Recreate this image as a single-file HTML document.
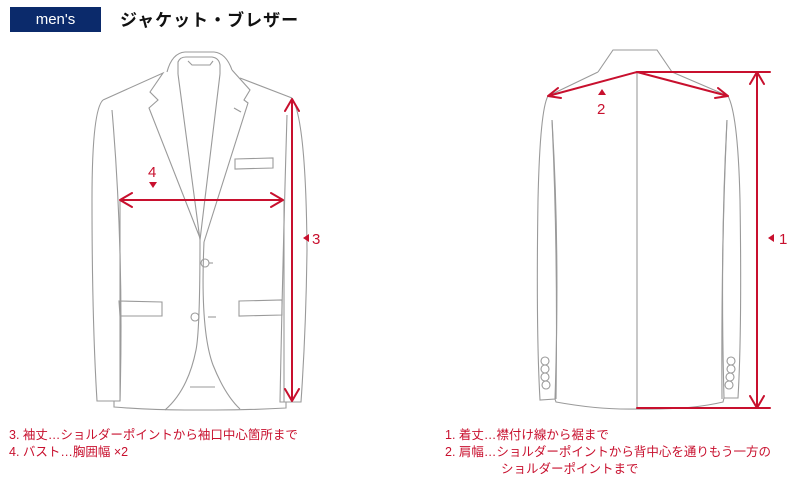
<!DOCTYPE html>
<html><head><meta charset="utf-8"><style>
html,body{margin:0;padding:0;background:#fff;}
body{width:800px;height:480px;position:relative;overflow:hidden;font-family:"Liberation Sans","Noto Sans CJK JP",sans-serif;}
.badge{position:absolute;left:10px;top:7px;width:91px;height:25px;background:#0b2a6b;color:#fff;font-size:15px;line-height:25px;text-align:center;}
.title{position:absolute;left:120px;top:6px;font-size:17px;font-weight:bold;color:#111;letter-spacing:1px;}
.t{position:absolute;color:#c8102e;font-size:12.5px;line-height:16px;white-space:nowrap;}
</style></head><body>
<div class="badge">men's</div>
<div class="title">ジャケット・ブレザー</div>
<svg width="800" height="480" style="position:absolute;left:0;top:0" fill="none">
<g stroke="#9a9a9a" stroke-width="1.1">
<!-- FRONT -->
<path d="M167,72 Q172,53 185,52 L214,52 Q226,53 232,70"/>
<path d="M178,74 L178,62 Q180,57 186,57 L212,57 Q219,58 220,65 L220,74"/>
<path d="M188,61 L192,65 L210,65 L213,61"/>
<path d="M178,74 L200,240 L220,74"/>
<path d="M103,100 L163,73 L150,92 L158,100 L149,108 L200,238"/>
<path d="M232,70 L250,90 L244,100 L248,103 L204,242"/>
<path d="M240,78 L292,98"/>
<path d="M234,108 L241,112"/>
<path d="M103,100 Q92,110 92,200 Q92,320 97,401 L120,401 Q124,250 112,110"/>
<path d="M292,98 Q306,120 307,250 Q306,330 301,402 L280,402 Q283,250 287,115"/>
<path d="M120,200 L120,401 M284,200 L284,402"/>
<path d="M114,401 L114,407 Q150,410 185,410 L215,410 Q250,410 286,408 L286,402"/>
<path d="M204,242 Q200,330 213,365 Q225,395 240,409"/>
<path d="M200,240 Q200,330 196,350 Q188,390 165,410"/>
<path d="M190,387 L215,387"/>
<path d="M119,301 L162,302 L162,316 L120,316 Z"/>
<path d="M239,301 L282,300 L282,315 L239,316 Z"/>
<path d="M235,159 L273,158 L273,168 L235,169 Z"/>
<circle cx="205" cy="263" r="4"/><path d="M209,263 L213,263"/>
<circle cx="195" cy="317" r="4"/><path d="M208,317 L216,317"/>
<!-- BACK -->
<path d="M598,72 L613,50 L657,50 L672,72"/>
<path d="M598,72 L548,96 M672,72 L728,96"/>
<path d="M637,72 L637,408"/>
<path d="M548,96 Q540,110 538,200 Q536,330 540,400 L555,399 Q560,250 552,120"/>
<path d="M728,96 Q738,115 740,200 Q742,330 738,398 L724,398 Q720,250 727,120"/>
<path d="M555,399 L556,402 Q600,410 637,409 Q690,410 723,402 L724,398"/>
<path d="M552,120 Q558,250 556,399 M727,120 Q721,250 722,399"/>
<circle cx="545" cy="361" r="4"/><circle cx="545" cy="369" r="4"/><circle cx="545" cy="377" r="4"/><circle cx="546" cy="385" r="4"/>
<circle cx="731" cy="361" r="4"/><circle cx="731" cy="369" r="4"/><circle cx="730" cy="377" r="4"/><circle cx="729" cy="385" r="4"/>
</g>
<g stroke="#c8102e" stroke-width="2" stroke-linecap="round" stroke-linejoin="round">
<path d="M292,99 L292,401 M285,111 L292,99 L299,111 M285,389 L292,401 L299,389"/>
<path d="M120,200 L283,200 M132,193 L120,200 L132,207 M271,193 L283,200 L271,207"/>
<path d="M637,72 L770,72 M757,72 L757,408 M637,408 L770,408 M750,84 L757,72 L764,84 M750,396 L757,408 L764,396"/>
<path d="M548,96 L637,72 L728,96 M561,98 L548,96 L558,88 M718,88 L728,96 L715,98"/>
</g>
<g fill="#c8102e">
<path d="M149,182 L157,182 L153,188 Z"/>
<path d="M309,234 L309,242 L303,238 Z"/>
<path d="M598,95 L606,95 L602,89 Z"/>
<path d="M774,234 L774,242 L768,238 Z"/>
</g>
<g fill="#c8102e" font-family="Liberation Sans, sans-serif" font-size="15">
<text x="148" y="177">4</text>
<text x="312" y="244">3</text>
<text x="597" y="114">2</text>
<text x="779" y="244">1</text>
</g>
</svg>
<div class="t" style="left:9px;top:427px">3. 袖丈…ショルダーポイントから袖口中心箇所まで</div>
<div class="t" style="left:9px;top:444px">4. バスト…胸囲幅 ×2</div>
<div class="t" style="left:445px;top:427px">1. 着丈…襟付け線から裾まで</div>
<div class="t" style="left:445px;top:444px">2. 肩幅…ショルダーポイントから背中心を通りもう一方の</div>
<div class="t" style="left:501px;top:461px">ショルダーポイントまで</div>
</body></html>
